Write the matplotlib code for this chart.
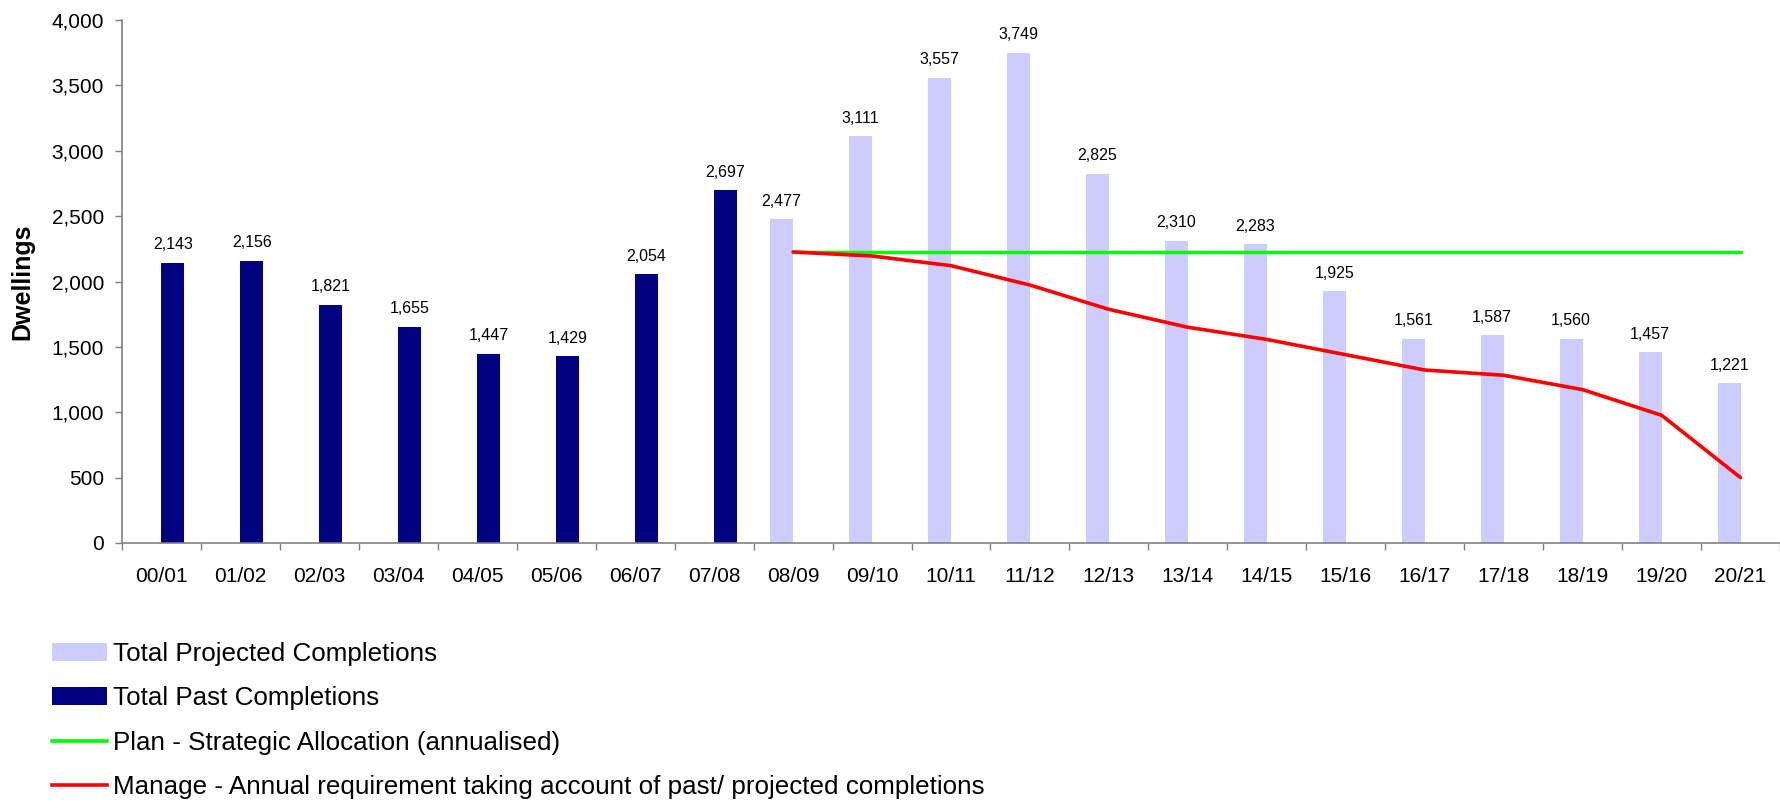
import matplotlib
matplotlib.use("Agg")
import matplotlib.pyplot as plt
from matplotlib.patches import Patch
from matplotlib.lines import Line2D
import numpy as np

plt.rcParams['font.family'] = ['Liberation Sans', 'DejaVu Sans']

categories = ["00/01", "01/02", "02/03", "03/04", "04/05", "05/06", "06/07",
              "07/08", "08/09", "09/10", "10/11", "11/12", "12/13", "13/14",
              "14/15", "15/16", "16/17", "17/18", "18/19", "19/20", "20/21"]
past = [2143, 2156, 1821, 1655, 1447, 1429, 2054, 2697]
projected = [2477, 3111, 3557, 3749, 2825, 2310, 2283, 1925, 1561, 1587, 1560, 1457, 1221]
plan = [2226] * 13
manage = [2226, 2195, 2121, 1973, 1787, 1650, 1557, 1440, 1323, 1283, 1173, 977, 500]

past_idx = np.arange(len(past))
proj_idx = np.arange(len(past), len(categories))

W, H = 1780, 802
fig = plt.figure(figsize=(W / 100, H / 100), dpi=100)
ax = fig.add_axes([122 / W, 1 - 543 / H, (W - 122) / W, (543 - 20) / H])

bw = 0.29
off = 0.145
ax.bar(proj_idx - off, projected, width=bw, color="#CCCCFF", zorder=2)
ax.bar(past_idx + off, past, width=bw, color="#000080", zorder=2)

for x, v in zip(proj_idx - off, projected):
    ax.annotate(f"{v:,}", (x, v), xytext=(0, 9.8), textcoords="offset points",
                ha="center", va="baseline", fontsize=11.5)
for x, v in zip(past_idx + off, past):
    ax.annotate(f"{v:,}", (x, v), xytext=(0, 9.8), textcoords="offset points",
                ha="center", va="baseline", fontsize=11.5)

ax.plot(proj_idx, plan, color="#00FF00", lw=2.5, solid_capstyle="round", zorder=3)
ax.plot(proj_idx, manage, color="#FF0000", lw=2.6, solid_capstyle="round",
        solid_joinstyle="round", zorder=4)

ax.set_ylim(0, 4000)
ax.set_xlim(-0.5, len(categories) - 0.5 - 2 / 79)
ax.set_yticks(np.arange(0, 4001, 500))
ax.set_yticklabels([f"{int(t):,}" for t in np.arange(0, 4001, 500)])
ax.set_xticks(np.arange(len(categories)))
ax.set_xticklabels(categories)
ax.set_xticks(np.arange(len(categories) + 1) - 0.5, minor=True)
ax.tick_params(axis="x", which="major", length=0, pad=17, labelsize=15)
ax.tick_params(axis="x", which="minor", length=5, width=1, color="#808080")
ax.tick_params(axis="y", length=5, width=1, color="#808080", pad=8, labelsize=15)

for s in ["top", "right"]:
    ax.spines[s].set_visible(False)
for s in ["left", "bottom"]:
    ax.spines[s].set_color("#808080")
    ax.spines[s].set_linewidth(1.2)

ax.set_ylabel("Dwellings", fontsize=18, fontweight="bold")
ax.yaxis.set_label_coords(-(122 - 34) / (W - 122), 0.5)

handles = [
    Patch(facecolor="#CCCCFF", edgecolor="none"),
    Patch(facecolor="#000080", edgecolor="none"),
    Line2D([], [], color="#00FF00", lw=2.6),
    Line2D([], [], color="#FF0000", lw=2.6),
]
labels = [
    "Total Projected Completions",
    "Total Past Completions",
    "Plan - Strategic Allocation (annualised)",
    "Manage - Annual requirement taking account of past/ projected completions",
]
fig.legend(handles, labels, loc="upper left", bbox_to_anchor=(52 / W, 1 - 642 / H),
           frameon=False, fontsize=18.7, borderpad=0, borderaxespad=0,
           handlelength=2.12, handletextpad=0.22, labelspacing=0.78, handleheight=0.65)

fig.savefig("out.png", dpi=100)
